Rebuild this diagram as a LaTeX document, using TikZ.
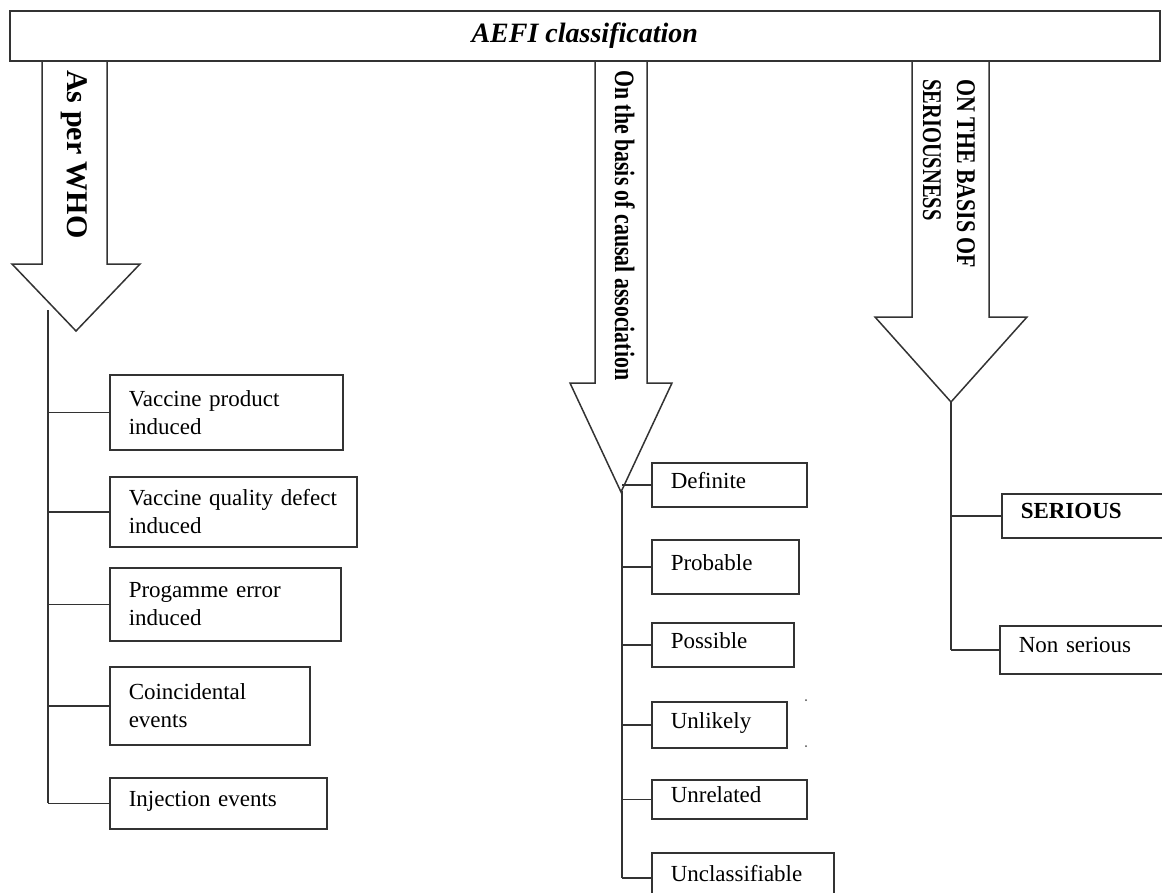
\documentclass[tikz,border=0pt]{standalone}
\usepackage{fontspec}
\setmainfont{Liberation Serif}
\usepackage{graphicx}
\newcommand{\squeeze}[2]{\scalebox{#1}[1]{#2}}
\tikzset{
  frame/.style={draw=black!80, line width=1.5pt},
  twig/.style={draw=black!80, line width=1.5pt},
  bigarrow/.style={frame, line join=miter},
  item/.style={frame, anchor=north west, inner xsep=19pt, inner ysep=0pt,
    align=left, font=\fontsize{23}{28}\selectfont, text width=#1},
  single/.style={text depth=9pt},
  side/.style={rotate=-90, anchor=base west, inner sep=0pt, align=left,
    font=\bfseries\fontsize{#1}{34}\selectfont}
}
\begin{document}
\begin{tikzpicture}[x=1pt,y=-1pt]
\useasboundingbox (0,0) rectangle (1162,892);
\clip (0,0) rectangle (1162,892);
%% big arrows
\draw[bigarrow] (42,60) -- (42,264) -- (12,264) -- (76,331) -- (140,264) -- (107,264) -- (107,60);
\draw[bigarrow] (595,60) -- (595,383) -- (570,383) -- (621,492) -- (672,383) -- (647,383) -- (647,60);
\draw[bigarrow] (912,60) -- (912,317) -- (875,317) -- (951,402) -- (1027,317) -- (989,317) -- (989,60);
%% heading
\node[frame, anchor=north west, minimum width=1150pt, minimum height=50pt, inner sep=0pt,
  font=\bfseries\itshape\fontsize{28}{34}\selectfont] (title) at (9,10) {AEFI classification};
%% arrow texts
\node[side=30] (who) at (67,70) {As per WHO};
\node[side=28] (causal) at (615,70) {\squeeze{0.78}{On the basis of causal association}};
\node[side=27] (basis) at (923,79) {\squeeze{0.81}{ON THE BASIS OF}\\\squeeze{0.76}{SERIOUSNESS}};
%% as per WHO
\node[item=195pt, minimum height=75pt] (b1) at (109,374) {Vaccine product\\induced};
\node[item=209pt, minimum height=70pt] (b2) at (109,476) {Vaccine quality defect\\induced};
\node[item=193pt, minimum height=73pt] (b3) at (109,567) {Progamme error\\induced};
\node[item=162pt, minimum height=78pt] (b4) at (109,666) {Coincidental\\events};
\node[item=179pt, minimum height=51pt, single] (b5) at (109,777) {Injection events};
%% causal association
\node[item=117pt, minimum height=44pt, single] (c1) at (651,462) {Definite};
\node[item=109pt, minimum height=54pt, single] (c2) at (651,539) {Probable};
\node[item=104pt, minimum height=44pt, single] (c3) at (651,622) {Possible};
\node[item=97pt, minimum height=46pt, single] (c4) at (651,701) {Unlikely};
\node[item=117pt, minimum height=39pt, single] (c5) at (651,779) {Unrelated};
\node[item=144pt, minimum height=50pt, single] (c6) at (651,852) {Unclassifiable};
%% seriousness
\node[item=152pt, minimum height=44pt, single, font=\bfseries\fontsize{23}{28}\selectfont] (d1) at (1001,493) {SERIOUS};
\node[item=152pt, minimum height=48pt, single] (d2) at (999,625) {Non serious};
%% trunks
\coordinate (t1) at (48,310);
\coordinate (t2) at (622,491);
\coordinate (t3) at (951,402);
\draw[twig] (t1) -- (t1 |- b5.west);
\draw[twig] (t2) -- (t2 |- c6.west);
\draw[twig] (t3) -- (t3 |- d2.west);
\foreach \i in {1,...,5} \draw[twig] (t1 |- b\i.west) -- (b\i.west);
\foreach \i in {1,...,6} \draw[twig] (t2 |- c\i.west) -- (c\i.west);
\foreach \i in {1,2} \draw[twig] (t3 |- d\i.west) -- (d\i.west);
%% stray dots
\fill[black!70] (806,700) circle (1);
\fill[black!70] (806,746) circle (1);
\end{tikzpicture}
\end{document}
